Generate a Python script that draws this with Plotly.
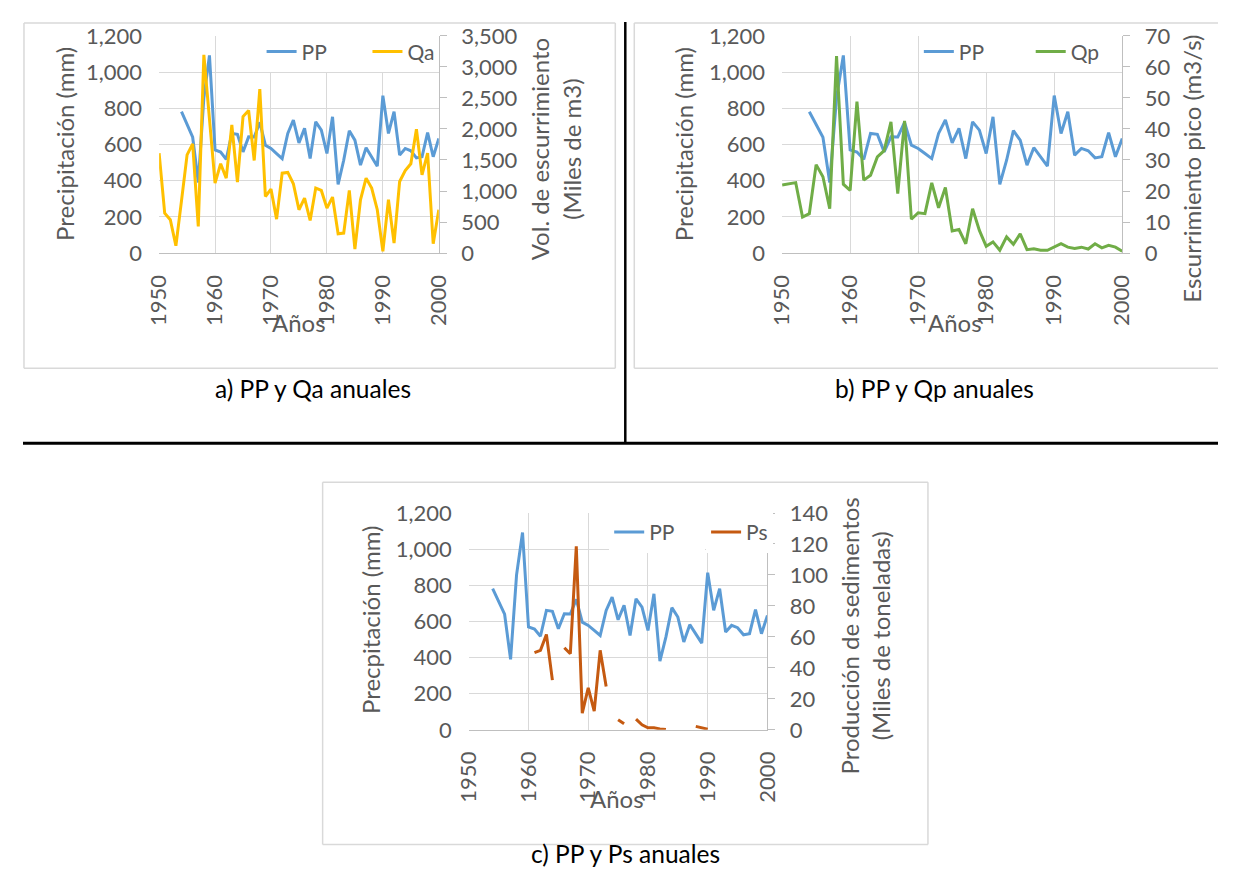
import plotly.graph_objects as go

# The page body keeps the browser's default 8px margin, and the returned
# photograph places the page slightly inset and scaled.  Targets below are
# pixel positions in the 1238x884 picture; tx()/ty() convert them to page
# pixels and px()/py() to paper fractions of the figure.
WIN_W, WIN_H = 1238, 884
OX, OY = 8, 8
W, H = WIN_W - 2 * OX, WIN_H - 2 * OY
SX, BX = 0.979, 14.2
SY, BY = 0.968, 14.4

# ---------------- data ----------------
years = list(range(1950, 2001))

pp = [None, None, None, None, 781, 710, 640, 390, 858, 1092,
      570, 558, 518, 661, 656, 559, 642, 641, 722, 596,
      578, 550, 522, 661, 735, 609, 689, 522, 725, 679,
      550, 753, 380, 513, 676, 624, 486, 582, 532, 480,
      870, 661, 781, 541, 578, 565, 526, 532, 665, 532,
      633]

qa = [1610, 644, 537, 118, 840, 1583, 1760, 430, 3194, 2100,
      1127, 1439, 1208, 2067, 1143, 2200, 2297, 1492, 2641, 912,
      1030, 547, 1288, 1299, 1116, 698, 886, 526, 1047, 1009,
      725, 902, 311, 322, 1009, 64, 859, 1208, 1047, 698,
      27, 859, 161, 1154, 1331, 1439, 1997, 1261, 1610, 150,
      698]

qp = [21.9, 22.4, 22.7, 11.6, 12.7, 28.5, 24.6, 14.3, 63.5, 22.2,
      20.2, 48.8, 23.5, 25.1, 31.0, 33.0, 42.3, 19.2, 42.6, 10.9,
      13.0, 12.7, 22.6, 14.6, 21.1, 7.1, 7.6, 3.0, 14.3, 7.3,
      2.2, 3.6, 0.9, 5.2, 2.8, 6.2, 1.1, 1.4, 0.9, 0.9,
      1.9, 3.0, 1.9, 1.5, 1.9, 1.3, 3.0, 1.7, 2.5, 1.9,
      0.6]

ps = ([None] * 11 +
      [49.8, 51.3, 61.6, 32.1, None, 53.0, 49.1, 118.5, 10.8, 27.1,
       12.1, 51.3, 28.0, None, 6.5, 3.9, None, 6.9, 3.2, 1.3,
       1.3, 0.6, 0.2, None, None, None, None, 2.2, 1.1, 0.4] +
      [None] * 10)

x_ticks = [1950, 1960, 1970, 1980, 1990, 2000]
captions = ["a) PP y Qa anuales", "b) PP y Qp anuales", "c) PP y Ps anuales"]

# ---------------- style ----------------
BLUE, GOLD, GREEN, ORANGE = "#5B9BD5", "#FFC000", "#70AD47", "#C55A11"
GRID, AXIS, TXT = "#D9D9D9", "#BFBFBF", "#595959"
FONT = "Lato"
TICK = 22
LEG = 21
TITLE = 24
CAP = 24.5


def tx(t):
    return (t - BX) / SX


def ty(t):
    return (t - BY) / SY


def px_page(d):
    return min(max((d - OX) / W, 0.0), 1.0)


def py_page(d):
    return min(max(1 - (d - OY) / H, 0.0), 1.0)


def px(t):
    return px_page(tx(t))


def py(t):
    return py_page(ty(t))


fig = go.Figure()

panels = [
    dict(xa="x", yl="y", yr="y2", q=qa, qn="Qa", qc=GOLD,
         lp="legend", lq="legend4",
         xd=[158.3, 438.3], yd=[253, 36], rmax=3500, rdt=500,
         lpx=302, lqx=408, ly=52, lw=60),
    dict(xa="x2", yl="y3", yr="y4", q=qp, qn="Qp", qc=GREEN,
         lp="legend2", lq="legend5",
         xd=[782, 1122.5], yd=[253, 36], rmax=70, rdt=10,
         lpx=960, lqx=1072, ly=52, lw=66),
    dict(xa="x3", yl="y5", yr="y6", q=ps, qn="Ps", qc=ORANGE,
         lp="legend3", lq="legend6",
         xd=[468.3, 767.3], yd=[729.3, 512.7], rmax=140, rdt=20,
         lpx=650, lqx=747, ly=532, lw=51),
]

TEXT_OFF = 42  # page px from a legend's x to the start of its item text

layout = {}
for i, p in enumerate(panels):
    fig.add_trace(go.Scatter(x=years, y=pp, name="PP", mode="lines",
                             line=dict(color=BLUE, width=3),
                             xaxis=p["xa"], yaxis=p["yl"], legend=p["lp"],
                             connectgaps=False))
    fig.add_trace(go.Scatter(x=years, y=p["q"], name=p["qn"], mode="lines",
                             line=dict(color=p["qc"], width=3),
                             xaxis=p["xa"], yaxis=p["yr"], legend=p["lq"],
                             connectgaps=False))
    xname = "xaxis" if i == 0 else f"xaxis{i + 1}"
    ylname = "yaxis" if i == 0 else f"yaxis{2 * i + 1}"
    yrname = f"yaxis{2 * i + 2}"
    layout[xname] = dict(
        domain=[px(p["xd"][0]), px(p["xd"][1])], anchor=p["yl"],
        range=[1950, 2000], tickmode="array", tickvals=x_ticks,
        ticktext=[str(t) for t in x_ticks], tickangle=-90,
        showgrid=True, gridcolor=GRID, gridwidth=1,
        showline=True, linecolor=AXIS, linewidth=1, zeroline=False,
        ticks="", ticklabelstandoff=12,
        tickfont=dict(family=FONT, size=TICK, color=TXT))
    layout[ylname] = dict(
        domain=[py(p["yd"][0]), py(p["yd"][1])], anchor=p["xa"],
        range=[0, 1200], dtick=200, tick0=0, tickformat=",d",
        showgrid=True, gridcolor=GRID, gridwidth=1,
        showline=False, zeroline=False, ticks="", ticklabelstandoff=16,
        tickfont=dict(family=FONT, size=TICK, color=TXT))
    layout[yrname] = dict(
        overlaying=p["yl"], side="right", anchor=p["xa"],
        range=[0, p["rmax"]], dtick=p["rdt"], tick0=0, tickformat=",d",
        showgrid=False, zeroline=False, showline=True, linecolor=AXIS,
        linewidth=1, ticks="outside", ticklen=7, tickcolor=AXIS,
        ticklabelstandoff=10,
        tickfont=dict(family=FONT, size=TICK, color=TXT))

    common = dict(orientation="h", xanchor="left", yanchor="middle",
                  bgcolor="white", borderwidth=0,
                  font=dict(family=FONT, size=LEG, color=TXT))
    layout[p["lp"]] = dict(common, x=px_page(tx(p["lpx"]) - TEXT_OFF),
                           y=py(p["ly"]), entrywidth=p["lw"])
    layout[p["lq"]] = dict(common, x=px_page(tx(p["lqx"]) - TEXT_OFF),
                           y=py(p["ly"]))

ann = []


def text(x, y, t, size=TITLE, angle=0, color=TXT, ypage=None):
    ann.append(dict(x=px(x), y=py(y) if ypage is None else py_page(ypage),
                    xref="paper", yref="paper", text=t,
                    showarrow=False, textangle=angle, xanchor="center",
                    yanchor="middle",
                    font=dict(family=FONT, size=size, color=color)))


# axis titles
text(64, 144, "Precipitación (mm)", angle=-90)
text(555, 149, "Vol. de escurrimiento<br>(Miles de m3)", angle=-90)
text(298, 322, "Años")
text(684, 144, "Precipitación (mm)", angle=-90)
text(1192, 169, "Escurrimiento pico (m3/s)", angle=-90)
text(955, 322, "Años")
text(370, 620, "Precpitación (mm)", angle=-90)
text(865, 636, "Producción de sedimentos<br>(Miles de toneladas)", angle=-90)
text(617, 798, "Años")
# captions (the lowest one is kept inside the figure)
text(312, 388, captions[0], size=CAP, color="black")
text(935, 388, captions[1], size=CAP, color="black")
text(625, 0, captions[2], size=CAP, color="black", ypage=866)

shapes = []


def seg(x0, y0, x1, y1, color, w):
    # coordinates are page pixels
    shapes.append(dict(type="line", xref="paper", yref="paper",
                       x0=px_page(x0), x1=px_page(x1),
                       y0=py_page(y0), y1=py_page(y1),
                       line=dict(color=color, width=w), layer="below"))


def box(x0, y0, x1, y1, right=True):
    seg(x0, y0, x1, y0, GRID, 1.5)
    seg(x0, y1, x1, y1, GRID, 1.5)
    seg(x0, y0, x0, y1, GRID, 1.5)
    if right:
        seg(x1, y0, x1, y1, GRID, 1.5)


LEFT, TOP, RIGHT = 9, 9, WIN_W
box(max(tx(10), LEFT), max(ty(7), TOP), tx(615), ty(368))
box(tx(634), max(ty(7), TOP), RIGHT, ty(368), right=False)
box(tx(322), ty(482), tx(928), ty(844))
seg(tx(625), 0, tx(625), ty(443), "black", 2.5)
seg(0, ty(443), RIGHT, ty(443), "black", 3)

fig.update_layout(
    width=W, height=H, autosize=False,
    margin=dict(l=0, r=0, t=0, b=0),
    paper_bgcolor="white", plot_bgcolor="white",
    font=dict(family=FONT, color=TXT),
    annotations=ann, shapes=shapes, showlegend=True,
    **layout)

fig.write_html("out.html")
